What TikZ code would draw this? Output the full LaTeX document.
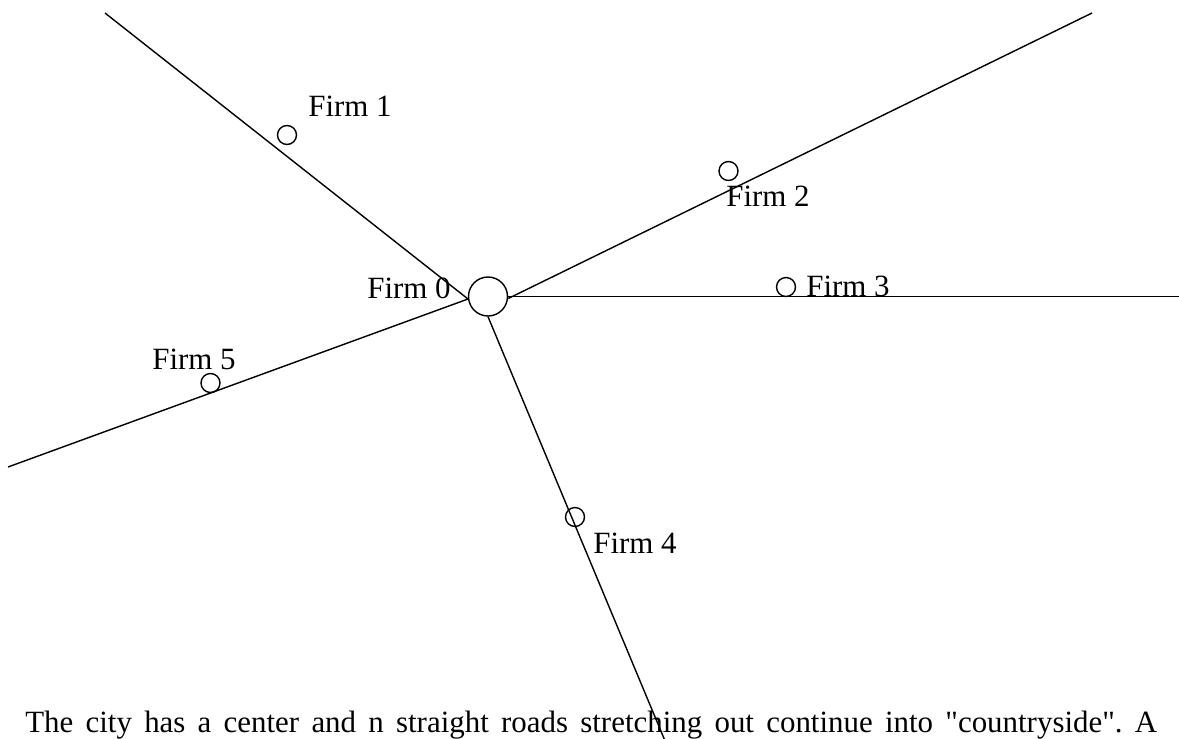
\documentclass[tikz,border=0pt]{standalone}
\usepackage{fontspec}
\setmainfont{Liberation Serif}
\frenchspacing

\begin{document}
\begin{tikzpicture}[x=0.02cm, y=-0.02cm,
    road/.style={line width=0.8pt},
    firm/.style={draw, circle, line width=0.8pt, minimum size=0.38cm, inner sep=0pt},
    label/.style={anchor=base west, inner sep=0pt, font=\fontsize{17.6}{21}\selectfont}]
        \useasboundingbox (0,0) rectangle (1179,738);
        \node [draw, circle, line width=0.8pt, minimum size=0.78cm, inner sep=0pt] (city) at (488,296.5) {};
        \coordinate (e1) at (105,13);
        \coordinate (e2) at (1092,13);
        \coordinate (e3) at (1179,296.5);
        \coordinate (e4) at (673,760);
        \coordinate (e5) at (8,467);
        \draw [road] (e1) -- (468,299);
        \draw [road] (e5) -- (468,299);
        \draw [road] (city.east) ++(0,2) -- (e2);
        \draw [road] (city.east) -- (e3);
        \draw [road] (city.south) -- (e4);
        \node [firm] (f1) at (287,135) {};
        \node [firm] (f2) at (728.5,171) {};
        \node [firm] (f3) at (786,287) {};
        \node [firm] (f4) at (575,517) {};
        \node [firm] (f5) at (210.5,383) {};
        \node [label] (l0) at (367,298) {Firm 0};
        \node [label] (l1) at (308,116) {Firm 1};
        \node [label] (l2) at (726,206) {Firm 2};
        \node [label] (l3) at (806,296) {Firm 3};
        \node [label] (l4) at (593,553) {Firm 4};
        \node [label] (l5) at (152,369) {Firm 5};
        % caption under the roads, set as a justified line
        \node [label] (cap) at (25,732) {\makebox[22.64cm][s]{The city has a center and n straight roads stretching out continue into \textquotedbl countryside\textquotedbl. A}};
    \end{tikzpicture}
\end{document}
